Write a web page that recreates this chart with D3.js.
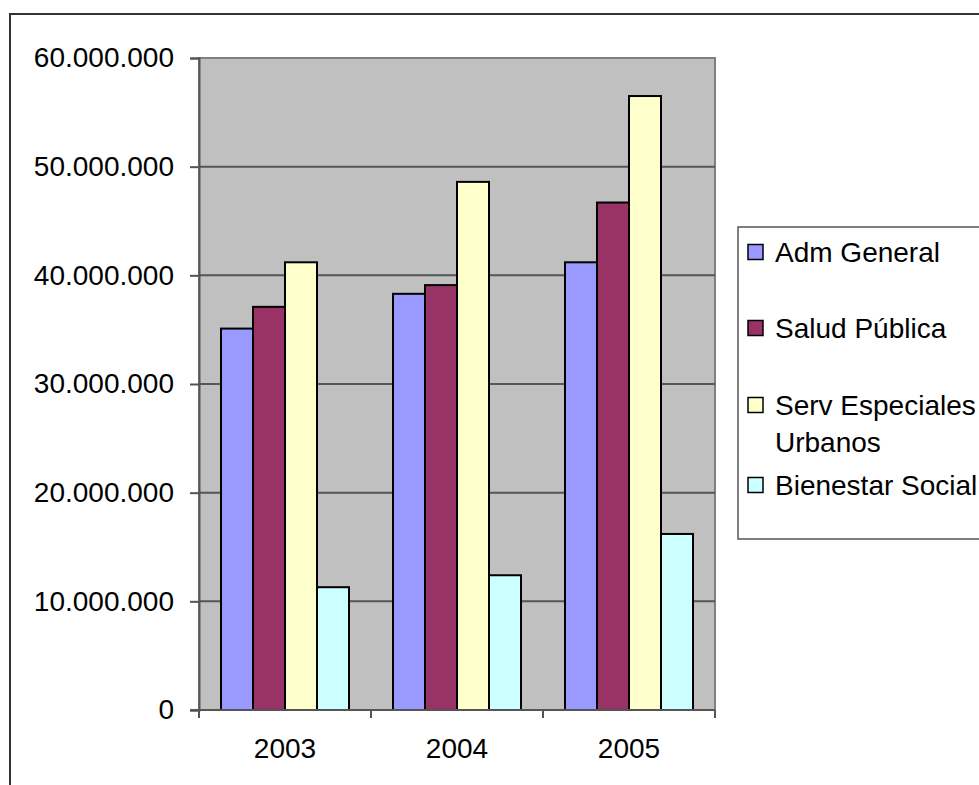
<!DOCTYPE html>
<html>
<head>
<meta charset="utf-8">
<script src="https://cdn.jsdelivr.net/npm/d3@7"></script>
<style>
  body { margin: 0; background: #fff; }
  svg { display: block; font-family: "Liberation Sans", Arial, sans-serif; }
</style>
</head>
<body>
<div id="chart"></div>
<script>
// data
let years = ['2003', '2004', '2005'];
let series = ['Adm General', 'Salud Pública', 'Serv Especiales Urbanos', 'Bienestar Social'];
let admGeneral = [35100000, 38300000, 41200000];
let saludPublica = [37100000, 39100000, 46700000];
let servEspeciales = [41200000, 48600000, 56500000];
let bienestarSocial = [11300000, 12400000, 16200000];
let yTicks = [0, 10000000, 20000000, 30000000, 40000000, 50000000, 60000000];
let colors = ['#9999ff', '#993366', '#ffffcc', '#ccffff'];
let legendLines = [['Adm General'], ['Salud Pública'], ['Serv Especiales', 'Urbanos'], ['Bienestar Social']];

let values = [admGeneral, saludPublica, servEspeciales, bienestarSocial];
let rows = [];
years.forEach((yr, i) => {
  series.forEach((s, j) => {
    rows.push({ year: yr, series: s, value: values[j][i], color: colors[j] });
  });
});

let width = 979, height = 785;
let plot = { left: 199, right: 715, top: 58, bottom: 710 };

let svg = d3.select('#chart').append('svg')
  .attr('width', width)
  .attr('height', height);

// outer chart border (runs off the right and bottom edge)
svg.append('rect')
  .attr('x', 10).attr('y', 14)
  .attr('width', 1000).attr('height', 800)
  .attr('fill', '#fff')
  .attr('stroke', '#333').attr('stroke-width', 2);

let x0 = d3.scaleBand().domain(years).range([plot.left, plot.right]).padding(0);
let x1 = d3.scaleBand().domain(series).range([0, x0.bandwidth()])
  .paddingInner(0).paddingOuter(0.6875);
let y = d3.scaleLinear().domain([0, 60000000]).range([plot.bottom, plot.top]);

// plot background
svg.append('rect')
  .attr('x', plot.left).attr('y', plot.top)
  .attr('width', plot.right - plot.left).attr('height', plot.bottom - plot.top)
  .attr('fill', '#c0c0c0')
  .attr('stroke', '#808080').attr('stroke-width', 2);

// gridlines
svg.append('g').selectAll('line')
  .data(yTicks.filter(d => d > 0 && d < 60000000))
  .join('line')
  .attr('x1', plot.left).attr('x2', plot.right)
  .attr('y1', d => y(d)).attr('y2', d => y(d))
  .attr('stroke', '#555').attr('stroke-width', 2);

// bars
svg.append('g').selectAll('rect')
  .data(rows)
  .join('rect')
  .attr('x', d => x0(d.year) + x1(d.series))
  .attr('y', d => y(d.value))
  .attr('width', x1.bandwidth())
  .attr('height', d => y(0) - y(d.value))
  .attr('fill', d => d.color)
  .attr('stroke', '#000').attr('stroke-width', 2);

// y axis
let yAxis = d3.axisLeft(y)
  .tickValues(yTicks)
  .tickSize(9)
  .tickPadding(16)
  .tickFormat(d => d3.format(',')(d).replace(/,/g, '.'));

let gy = svg.append('g')
  .attr('transform', `translate(${plot.left},0)`)
  .call(yAxis);
gy.select('.domain').attr('stroke', '#555').attr('stroke-width', 2);
gy.selectAll('.tick line').attr('stroke', '#555').attr('stroke-width', 2);
gy.selectAll('.tick text')
  .attr('font-size', 28)
  .attr('font-family', '"Liberation Sans", Arial, sans-serif')
  .attr('fill', '#000');

// x axis, ticks sit on category borders
let gx = svg.append('g')
  .attr('transform', `translate(0,${plot.bottom})`);
gx.append('line')
  .attr('x1', plot.left - 9).attr('x2', plot.right)
  .attr('y1', 0).attr('y2', 0)
  .attr('stroke', '#555').attr('stroke-width', 2);
let borders = years.map(d => x0(d)).concat([plot.right]);
gx.selectAll('.xtick')
  .data(borders)
  .join('line')
  .attr('class', 'xtick')
  .attr('x1', d => d).attr('x2', d => d)
  .attr('y1', 0).attr('y2', 8)
  .attr('stroke', '#555').attr('stroke-width', 2);
gx.selectAll('.xlabel')
  .data(years)
  .join('text')
  .attr('class', 'xlabel')
  .attr('x', d => x0(d) + x0.bandwidth() / 2)
  .attr('y', 38)
  .attr('dy', '0.35em')
  .attr('text-anchor', 'middle')
  .attr('font-size', 28)
  .text(d => d);

// legend
let legend = svg.append('g');
legend.append('rect')
  .attr('x', 738).attr('y', 227)
  .attr('width', 300).attr('height', 312)
  .attr('fill', '#fff')
  .attr('stroke', '#555').attr('stroke-width', 1.5);

let legendY = [252, 328, 405, 485];
let items = legend.selectAll('.item')
  .data(series)
  .join('g')
  .attr('class', 'item')
  .attr('transform', (d, i) => `translate(748,${legendY[i]})`);
items.append('rect')
  .attr('x', 0).attr('y', -7.5)
  .attr('width', 15).attr('height', 15)
  .attr('fill', (d, i) => colors[i])
  .attr('stroke', '#000').attr('stroke-width', 1.5);
items.append('text')
  .attr('font-size', 28)
  .selectAll('tspan')
  .data((d, i) => legendLines[i])
  .join('tspan')
  .attr('x', 27)
  .attr('y', (d, k) => k * 37)
  .attr('dy', '0.35em')
  .text(d => d);
</script>
</body>
</html>
